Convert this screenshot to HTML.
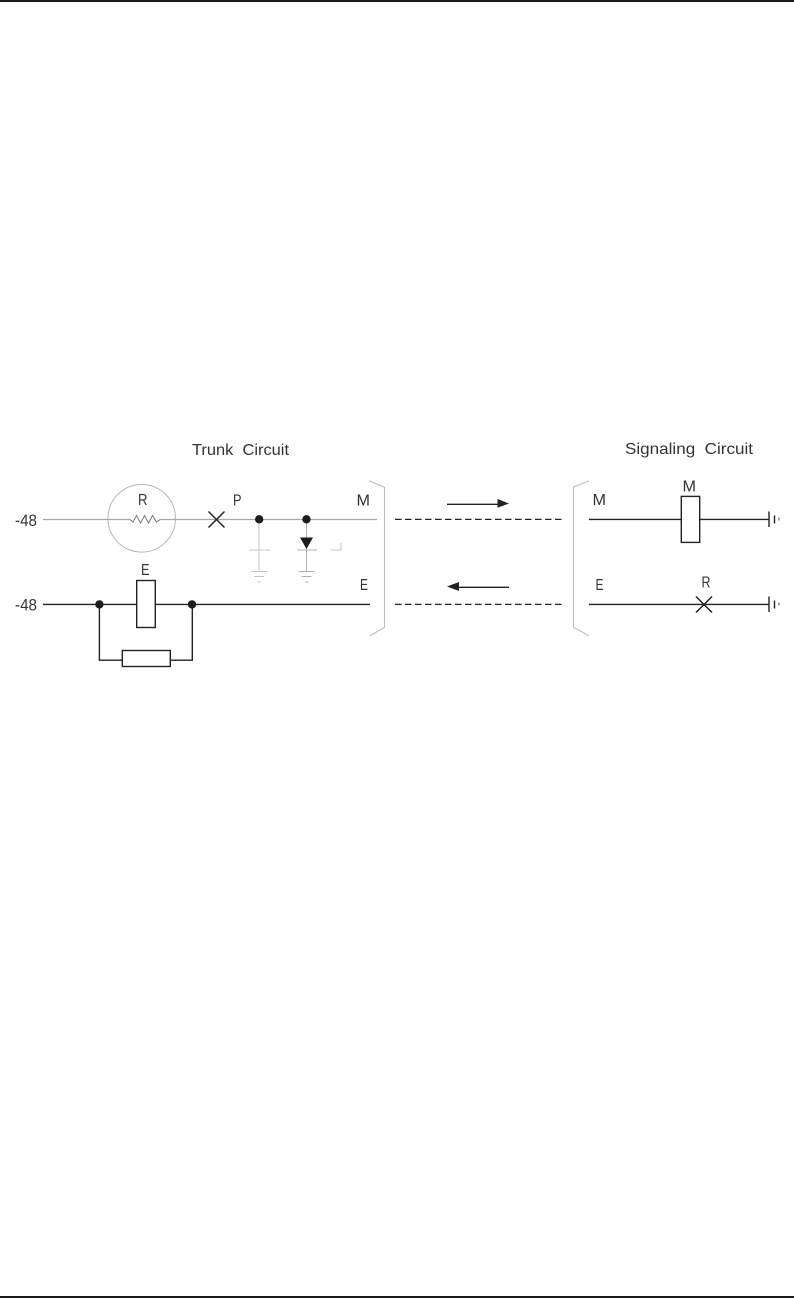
<!DOCTYPE html>
<html lang="en">
<head>
<meta charset="utf-8">
<title>Trunk Circuit and Signaling Circuit</title>
<style>
html,body{margin:0;padding:0;background:#fff;}
svg{display:block;}
text{font-family:"Liberation Sans",sans-serif;font-size:16px;fill:#333;}
</style>
</head>
<body>
<svg width="794" height="1298" viewBox="0 0 794 1298" xmlns="http://www.w3.org/2000/svg">
<rect x="0" y="0" width="794" height="2" fill="#1a1a1a"/>
<rect x="0" y="1296" width="794" height="2" fill="#1a1a1a"/>

<!-- Titles -->
<text x="192" y="455" textLength="97" lengthAdjust="spacingAndGlyphs">Trunk&#160;&#160;Circuit</text>
<text x="625" y="454" textLength="128" lengthAdjust="spacingAndGlyphs">Signaling&#160;&#160;Circuit</text>

<!-- Labels -->
<text x="15" y="526" textLength="22" lengthAdjust="spacingAndGlyphs" style="font-size:17px">-48</text>
<text x="15" y="610.5" textLength="22" lengthAdjust="spacingAndGlyphs" style="font-size:17px">-48</text>
<text x="138" y="505" textLength="9.5" lengthAdjust="spacingAndGlyphs" fill="#444">R</text>
<text x="141" y="575" textLength="8.5" lengthAdjust="spacingAndGlyphs">E</text>
<text x="233" y="505.5" textLength="8.5" lengthAdjust="spacingAndGlyphs">P</text>
<text x="356.5" y="505.5" textLength="13.5" lengthAdjust="spacingAndGlyphs">M</text>
<text x="360" y="590" textLength="8" lengthAdjust="spacingAndGlyphs">E</text>
<text x="592.5" y="505" textLength="13.5" lengthAdjust="spacingAndGlyphs">M</text>
<text x="682.5" y="491.5" textLength="13.5" lengthAdjust="spacingAndGlyphs">M</text>
<text x="595.5" y="590" textLength="8" lengthAdjust="spacingAndGlyphs">E</text>
<text x="701.5" y="587.5" textLength="9" lengthAdjust="spacingAndGlyphs">R</text>

<!-- Upper left circuit (grey) -->
<g fill="none" stroke="#a8a8a8" stroke-width="1">
  <circle cx="141.7" cy="518.3" r="33.8" stroke="#b5b5b5"/>
  <path d="M43 519.5H130M160 519.5H377" stroke-width="1.3"/>
  <polyline points="130,519.5 133,522 136.5,515.5 140.5,523 144.5,515.5 148.5,523 152.5,515.5 156.5,522 160,519.5" stroke="#777"/>
</g>
<g fill="none" stroke="#c4c4c4" stroke-width="1">
  <path d="M259 519.5V571.5M249 550H270M251 571.5H267M254 576.5H264M257.5 582H261"/>
  <path d="M306.5 519.5V571.5M297 550H317M298.5 571.5H314.5M301.5 576.5H311.5M305 582H308.5" stroke="#b0b0b0"/>
  <path d="M331 550H341V543"/>
</g>
<path d="M300 537.5H313L306.5 549Z" fill="#1c1c1c"/>
<circle cx="259.2" cy="519.3" r="4.2" fill="#1c1c1c"/>
<circle cx="306.5" cy="519.3" r="4.2" fill="#1c1c1c"/>
<path d="M208.5 511.5L224.5 527.5M224.5 511.5L208.5 527.5" stroke="#222" stroke-width="1.5" fill="none"/>

<!-- Lower left circuit -->
<g fill="none" stroke="#222" stroke-width="1.4">
  <path d="M43 604.4H136.7M155.3 604.4H370"/>
  <rect x="136.7" y="580.5" width="18.6" height="47"/>
  <path d="M99.4 604.4V660.2H122.3M170.3 660.2H192.3V604.4"/>
  <rect x="122.3" y="650.5" width="48" height="16"/>
</g>
<circle cx="99.4" cy="604.4" r="4.2" fill="#1c1c1c"/>
<circle cx="192" cy="604.4" r="4.2" fill="#1c1c1c"/>

<!-- Brackets -->
<path d="M369 480.7L384.5 487.3V627.3L370 635.7" fill="none" stroke="#bdbdbd" stroke-width="1.1"/>
<path d="M589 480.7L573.5 487.3V627.3L589 635.7" fill="none" stroke="#bdbdbd" stroke-width="1.1"/>

<!-- Dashed lines -->
<path d="M395 519.4H562M395 604.4H562" fill="none" stroke="#222" stroke-width="1.2" stroke-dasharray="6.5 3.5"/>

<!-- Arrows -->
<path d="M447 504.3H499" stroke="#222" stroke-width="1.3" fill="none"/>
<path d="M497.5 499L509 503.5L497.5 507.7Z" fill="#222"/>
<path d="M459 587.3H509" stroke="#222" stroke-width="1.3" fill="none"/>
<path d="M459 582L447 586.5L459 591Z" fill="#222"/>

<!-- Right circuit -->
<g fill="none" stroke="#222" stroke-width="1.4">
  <path d="M589 519.4H681.3M699.7 519.4H769"/>
  <rect x="681.3" y="496.4" width="18.4" height="46"/>
  <path d="M769 511.5V527M774.5 515.5V523.5"/>
  <path d="M589 604.4H769"/>
  <path d="M769 596.5V612M774.5 600.5V608.5"/>
  <path d="M696 596.5L712 612.5M712 596.5L696 612.5" stroke-width="1.5"/>
</g>
<path d="M779 517.5V520.5M779 602.5V605.5" stroke="#555" stroke-width="1" fill="none"/>
</svg>
</body>
</html>
